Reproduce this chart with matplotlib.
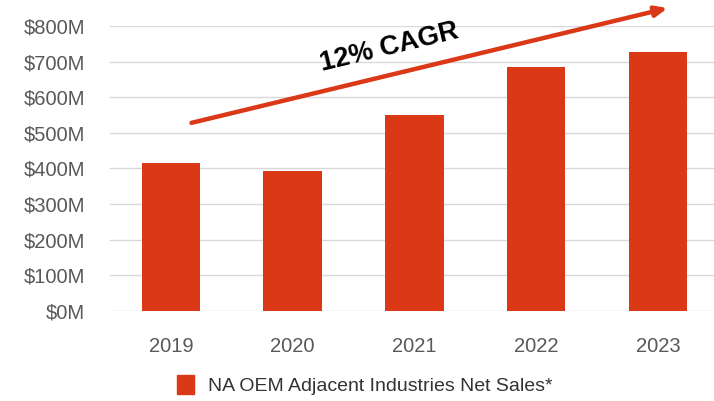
import matplotlib
matplotlib.use("Agg")
import matplotlib.pyplot as plt
from matplotlib.patches import Rectangle

years = ["2019", "2020", "2021", "2022", "2023"]
net_sales = [415, 393, 550, 685, 728]  # $M
y_ticks = [0, 100, 200, 300, 400, 500, 600, 700, 800]
y_tick_labels = [f"${v}M" for v in y_ticks]
series_name = "NA OEM Adjacent Industries Net Sales*"
cagr_label = "12% CAGR"

bar_color = "#DA3816"
text_gray = "#595959"

plt.rcParams["font.family"] = ["Liberation Sans", "DejaVu Sans"]

fig = plt.figure(figsize=(7.14, 4.01), dpi=100)
ax = fig.add_axes([0.154, 0.2244, 0.846, 0.711])

x = list(range(len(years)))
ax.bar(x, net_sales, width=0.48, color=bar_color, zorder=3)

ax.set_ylim(0, 800)
ax.set_xlim(-0.5, 4.46)
ax.set_yticks(y_ticks)
ax.set_yticklabels(y_tick_labels, fontsize=14.5, color=text_gray)
ax.set_xticks(x)
ax.set_xticklabels(years, fontsize=14.5, color=text_gray)
ax.tick_params(axis="both", length=0)
ax.tick_params(axis="x", pad=19)
ax.tick_params(axis="y", pad=18)
ax.grid(axis="y", color="#D9D9D9", linewidth=1, zorder=0)
for s in ax.spines.values():
    s.set_visible(False)

# growth arrow and label
ax.annotate("", xy=(4.08, 850), xytext=(0.17, 528),
            arrowprops=dict(arrowstyle="-|>,head_length=0.7,head_width=0.3",
                            color=bar_color, lw=3.2, shrinkA=0, shrinkB=0),
            annotation_clip=False, zorder=5)
ax.text(1.79, 740, cagr_label, fontsize=19.5, fontweight="bold",
        rotation=13.6, rotation_mode="anchor", ha="center", va="center",
        color="black", zorder=6)

# legend
handle = Rectangle((0, 0), 1, 1, color=bar_color)
fig.legend([handle], [series_name], loc="center", bbox_to_anchor=(0.511, 0.04),
           frameon=False, fontsize=14, handlelength=0.85, handleheight=1.1,
           handletextpad=0.75, labelcolor="#333333")

fig.savefig("out.png", dpi=100)
